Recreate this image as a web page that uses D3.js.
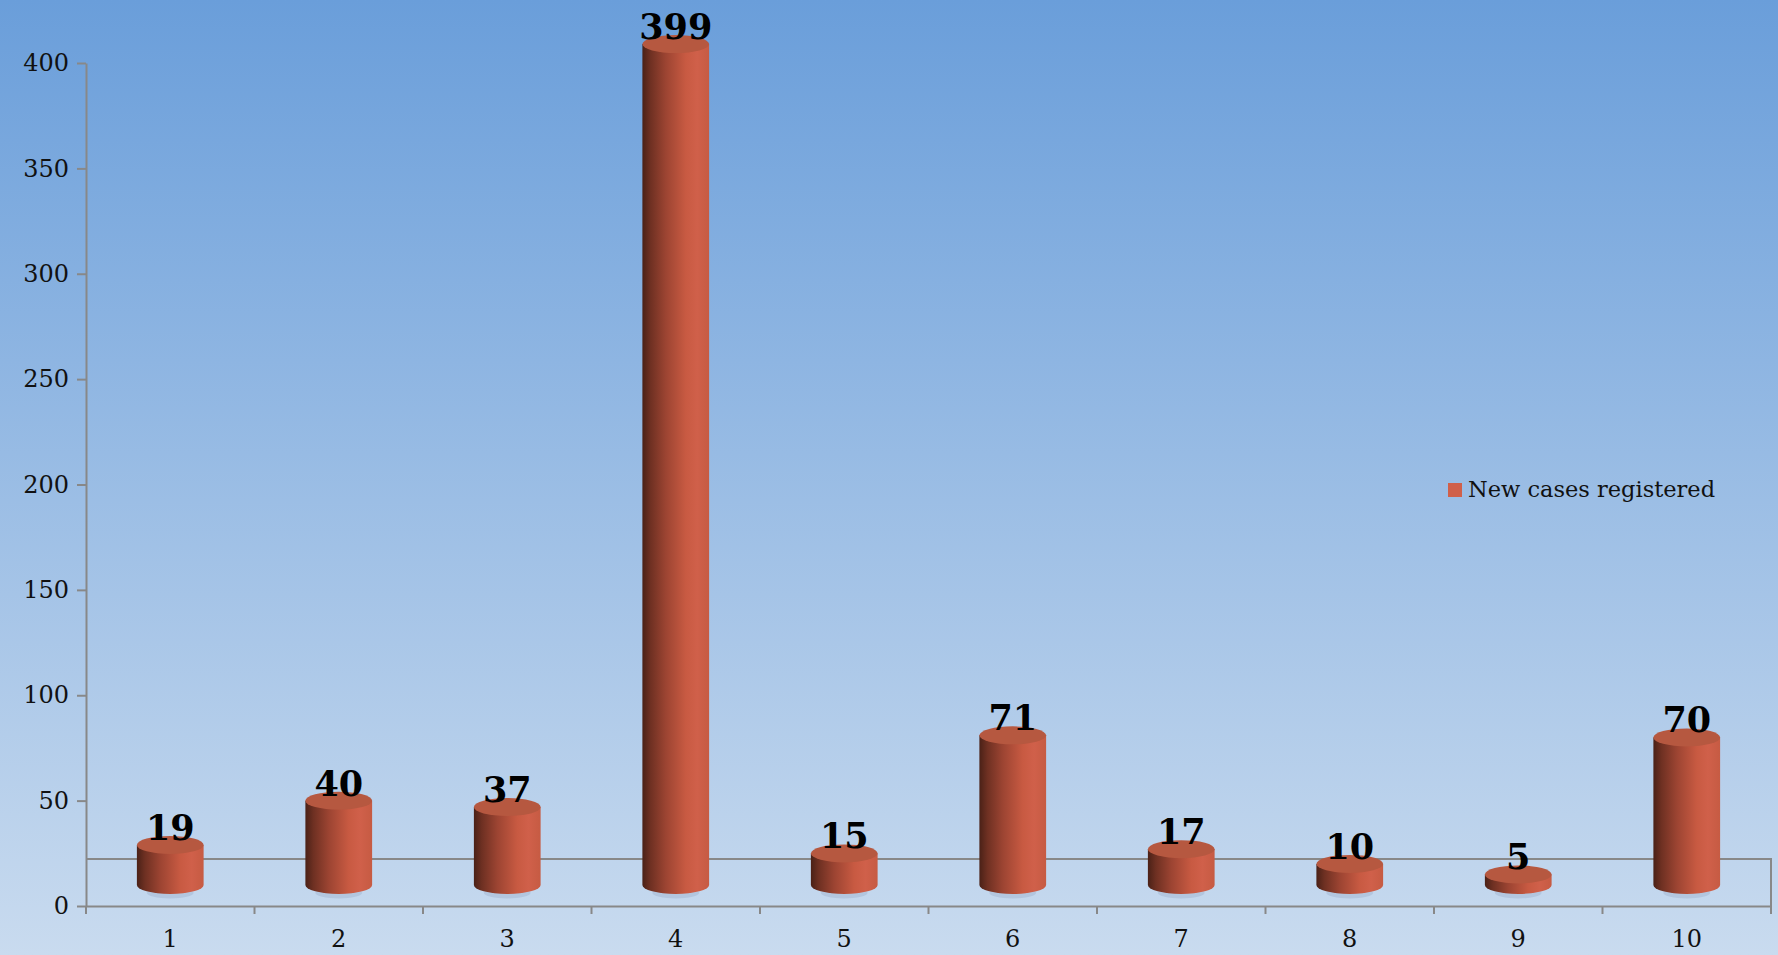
<!DOCTYPE html>
<html lang="en">
<head>
  <meta charset="UTF-8">
  <title>New cases registered</title>
  <script src="https://d3js.org/d3.v7.min.js"></script>
  <style>
    body { margin: 0; overflow: hidden; }
    svg { display: block; }
  </style>
</head>
<body>
  <div class="chart"></div>
  <script>
    const categories = ['1', '2', '3', '4', '5', '6', '7', '8', '9', '10'];
    const values = [19, 40, 37, 399, 15, 71, 17, 10, 5, 70];
    const yTicks = [0, 50, 100, 150, 200, 250, 300, 350, 400];
    const seriesName = 'New cases registered';

    const W = 1778, H = 955;
    const plotLeft = 86, plotRight = 1771, plotTop = 63, plotBottom = 906;
    const depth = 21;   // 3D floor offset for the cylinders
    const font = 'Georgia, "DejaVu Serif", serif';

    const svg = d3.select('.chart').append('svg').attr('width', W).attr('height', H);
    const defs = svg.append('defs');

    const bg = defs.append('linearGradient').attr('id', 'bg')
      .attr('x1', 0).attr('y1', 0).attr('x2', 0).attr('y2', 1);
    bg.append('stop').attr('offset', '0%').attr('stop-color', '#6a9eda');
    bg.append('stop').attr('offset', '100%').attr('stop-color', '#c9dbef');
    svg.append('rect').attr('width', W).attr('height', H).attr('fill', 'url(#bg)');

    const body = defs.append('linearGradient').attr('id', 'cyl')
      .attr('x1', 0).attr('y1', 0).attr('x2', 1).attr('y2', 0);
    [['0%', '#4a2117'], ['12%', '#6e3022'], ['35%', '#9c4432'], ['65%', '#c85a42'],
     ['82%', '#d0604a'], ['100%', '#c65b43']]
      .forEach(([o, c]) => body.append('stop').attr('offset', o).attr('stop-color', c));

    const x = d3.scaleBand().domain(categories).range([plotLeft, plotRight]).padding(0);
    const y = d3.scaleLinear().domain([0, 400]).range([plotBottom, plotTop]);

    const axisColor = '#888888';

    // floor (back edge + right side)
    svg.append('path')
      .attr('d', `M${plotLeft},${plotBottom - 47}H${plotRight}V${plotBottom}`)
      .attr('fill', 'none').attr('stroke', axisColor).attr('stroke-width', 2);

    // y axis
    const yAxis = svg.append('g').attr('transform', `translate(${plotLeft},0)`)
      .call(d3.axisLeft(y).tickValues(yTicks).tickSize(9).tickPadding(8).tickSizeOuter(0));
    yAxis.select('.domain').attr('stroke', axisColor).attr('stroke-width', 2);
    yAxis.selectAll('.tick line').attr('stroke', axisColor).attr('stroke-width', 2);
    yAxis.selectAll('.tick text').attr('font-family', font).attr('font-size', 24).attr('fill', '#111');

    // x axis with ticks at category boundaries
    const xAxis = svg.append('g').attr('transform', `translate(0,${plotBottom})`)
      .call(d3.axisBottom(x).tickSize(0).tickPadding(24));
    xAxis.select('.domain').attr('stroke', axisColor).attr('stroke-width', 2);
    xAxis.selectAll('.tick text').attr('font-family', font).attr('font-size', 24).attr('fill', '#111');
    const bounds = categories.map(c => x(c)).concat([x(categories[categories.length - 1]) + x.bandwidth()]);
    xAxis.selectAll('.bound').data(bounds).join('line')
      .attr('x1', d => d).attr('x2', d => d).attr('y1', 0).attr('y2', 8)
      .attr('stroke', axisColor).attr('stroke-width', 2);

    // cylinders
    const rx = x.bandwidth() * 0.198, ry = 9;
    const data = categories.map((c, i) => ({ c, v: values[i] }));
    const g = svg.append('g');
    const cyl = g.selectAll('g.cyl').data(data).join('g').attr('class', 'cyl');

    cyl.append('ellipse')
      .attr('cx', d => x(d.c) + x.bandwidth() / 2).attr('cy', y(0) - depth + 8)
      .attr('rx', rx * 0.7).attr('ry', ry * 0.6)
      .attr('fill', '#a9bbd6').attr('opacity', 0.6);

    cyl.append('path')
      .attr('d', d => {
        const cx = x(d.c) + x.bandwidth() / 2;
        const yt = y(d.v) - depth, yb = y(0) - depth;
        return `M${cx - rx},${yt}L${cx - rx},${yb}A${rx},${ry} 0 0 0 ${cx + rx},${yb}L${cx + rx},${yt}Z`;
      })
      .attr('fill', 'url(#cyl)');

    cyl.append('ellipse')
      .attr('cx', d => x(d.c) + x.bandwidth() / 2).attr('cy', d => y(d.v) - depth)
      .attr('rx', rx).attr('ry', ry)
      .attr('fill', '#b65840');

    cyl.append('text')
      .attr('x', d => x(d.c) + x.bandwidth() / 2)
      .attr('y', d => y(d.v) - depth - ry + 4)
      .attr('text-anchor', 'middle')
      .attr('font-family', font).attr('font-weight', 'bold').attr('font-size', 35)
      .attr('fill', '#000')
      .text(d => d.v);

    // legend
    const lg = svg.append('g').attr('transform', 'translate(1448,483)');
    lg.append('rect').attr('width', 14).attr('height', 14).attr('fill', '#d0604a');
    lg.append('text').attr('x', 20).attr('y', 14)
      .attr('font-family', font).attr('font-size', 22.5).attr('fill', '#111')
      .text(seriesName);
  </script>
</body>
</html>
